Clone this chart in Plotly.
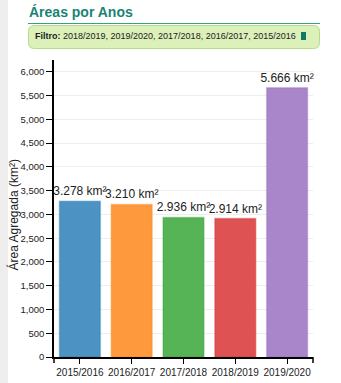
import plotly.graph_objects as go

# Aggregated area per year period (km²)
periods = ["2015/2016", "2016/2017", "2017/2018", "2018/2019", "2019/2020"]
areas = [3278, 3210, 2936, 2914, 5666]
fill_colors = ["#4c92c3", "#ff993e", "#56b356", "#de5253", "#a985ca"]
edge_colors = ["rgba(31,119,180,0.35)", "rgba(255,127,14,0.35)", "rgba(44,160,44,0.35)",
               "rgba(214,39,40,0.35)", "rgba(148,103,189,0.35)"]
y_ticks = list(range(0, 6001, 500))
filter_text = "2018/2019, 2019/2020, 2017/2018, 2016/2017, 2015/2016"

W, H = 341, 383
L, R, T, B = 54, 28, 60, 26
PW, PH = W - L - R, H - T - B


def px(x):
    return (x - L) / PW


def py(y):
    return (H - B - y) / PH


def rounded_box(x0, y0, x1, y1, r):
    # rounded rectangle path in paper coordinates from pixel corners
    def P(x, y):
        return f"{px(x):.5f},{py(y):.5f}"
    return " ".join([
        f"M {P(x0 + r, y0)}", f"L {P(x1 - r, y0)}", f"Q {P(x1, y0)} {P(x1, y0 + r)}",
        f"L {P(x1, y1 - r)}", f"Q {P(x1, y1)} {P(x1 - r, y1)}", f"L {P(x0 + r, y1)}",
        f"Q {P(x0, y1)} {P(x0, y1 - r)}", f"L {P(x0, y0 + r)}", f"Q {P(x0, y0)} {P(x0 + r, y0)} Z",
    ])


labels = [f"{v:,}".replace(",", ".") + " km²" for v in areas]
font = "Liberation Sans, Arial, sans-serif"

fig = go.Figure(go.Bar(
    x=periods, y=areas,
    marker=dict(color=fill_colors, line=dict(color=edge_colors, width=1.5)),
    text=labels, textposition="outside", constraintext="none", cliponaxis=False,
    textfont=dict(family=font, size=12, color="#222"),
    hoverinfo="skip",
))

shapes = [
    # grey strip on the left edge
    dict(type="rect", xref="paper", yref="paper", x0=px(0), x1=px(8), y0=py(H), y1=py(0),
         fillcolor="#eeeeee", line=dict(width=0), layer="below"),
    # heading underline
    dict(type="line", xref="paper", yref="paper", x0=px(28), x1=px(320), y0=py(23.5), y1=py(23.5),
         line=dict(color="#3f9b8c", width=1)),
    # filter box
    dict(type="path", xref="paper", yref="paper", path=rounded_box(28.5, 25.5, 319.5, 48.5, 6),
         fillcolor="#dcf0ba", line=dict(color="#b6dc86", width=1)),
    # trash icon
    dict(type="rect", xref="paper", yref="paper", x0=px(301), x1=px(306), y0=py(40), y1=py(32),
         fillcolor="#0e7a66", line=dict(width=0)),
    # outer ticks at the ends of the x axis
    dict(type="line", xref="paper", yref="paper", x0=px(54), x1=px(54), y0=py(357), y1=py(363),
         line=dict(color="#000", width=1.5)),
    dict(type="line", xref="paper", yref="paper", x0=px(313), x1=px(313), y0=py(357), y1=py(363),
         line=dict(color="#000", width=1.5)),
]

annotations = [
    dict(text="<b>Áreas por Anos</b>", xref="paper", yref="paper", x=px(27), y=py(12),
         xanchor="left", yanchor="middle", showarrow=False,
         font=dict(family=font, size=14, color="#1a8377")),
    dict(text=f"<b>Filtro:</b> {filter_text}", xref="paper", yref="paper", x=px(33), y=py(36.5),
         xanchor="left", yanchor="middle", showarrow=False,
         font=dict(family=font, size=9, color="#222")),
    # y axis title
    dict(text="Área Agregada (km²)", xref="paper", yref="paper", x=px(12.5), y=py(215),
         xanchor="center", yanchor="middle", textangle=-90, showarrow=False,
         font=dict(family=font, size=12, color="#222")),
]

fig.update_layout(
    width=W, height=H,
    margin=dict(l=L, r=R, t=T, b=B, pad=0, autoexpand=False),
    paper_bgcolor="white", plot_bgcolor="white",
    bargap=0.21, showlegend=False,
    shapes=shapes, annotations=annotations,
    font=dict(family=font, color="#222"),
    xaxis=dict(
        showline=True, linecolor="#000", linewidth=1.5, ticks="outside", ticklen=5,
        tickcolor="#000", tickfont=dict(size=10, color="#222"), showgrid=False,
        automargin=False, fixedrange=True,
    ),
    yaxis=dict(
        range=[0, 6250], tickvals=y_ticks, tickformat=",d",
        showline=True, linecolor="#000", linewidth=1.5, ticks="outside", ticklen=6,
        tickcolor="#000", tickfont=dict(size=9.5, color="#222"),
        showgrid=True, gridcolor="#eeeeee", gridwidth=1, zeroline=False,
        automargin=False, fixedrange=True,
    ),
)

fig.write_html("out.html", config={"displayModeBar": False})
